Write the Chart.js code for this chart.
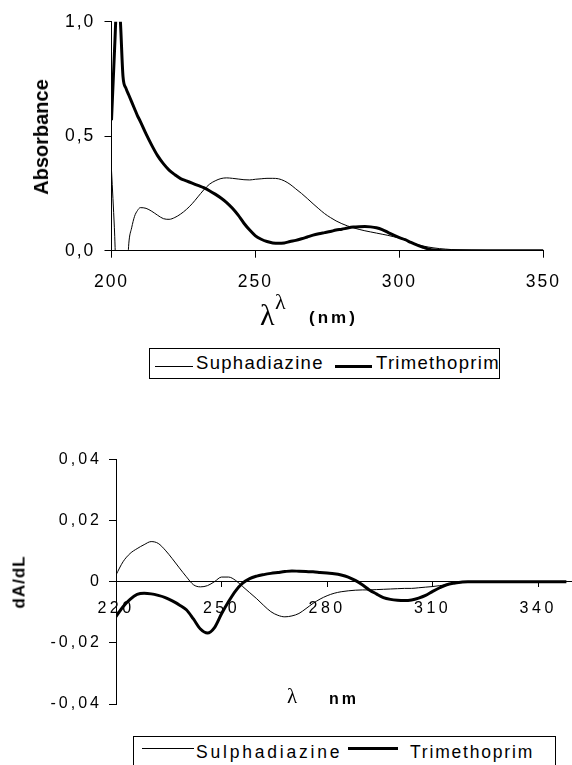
<!DOCTYPE html>
<html>
<head>
<meta charset="utf-8">
<script src="https://cdn.jsdelivr.net/npm/chart.js@4/dist/chart.umd.min.js"></script>
<style>
  html, body { margin: 0; padding: 0; background: #fff; overflow: hidden; }
  body { width: 572px; height: 765px; position: relative; font-family: 'Liberation Sans', Arial, sans-serif; color: #000; }
  .wrap { position: absolute; left: 0; width: 572px; }
  .txt { position: absolute; white-space: nowrap; line-height: 1; }
  .rot { transform: translate(-50%, -50%) rotate(-90deg); font-weight: bold; }
  .serif { font-family: 'Liberation Serif', 'DejaVu Serif', serif; }
  .box { position: absolute; border: 1px solid #000; box-sizing: border-box; }
  .ln { position: absolute; background: #000; }
</style>
</head>
<body>
<div class="wrap" style="top:0;height:300px"><canvas id="absChart"></canvas></div>
<div class="wrap" style="top:400px;height:330px"><canvas id="derChart"></canvas></div>

<!-- axis titles -->
<div class="txt rot" style="left:41px;top:137px;font-size:20px">Absorbance</div>
<span class="txt serif" style="left:260px;top:300px;font-size:30px">λ</span>
<span class="txt serif" style="left:275px;top:291px;font-size:22px">λ</span>
<span class="txt" style="left:309px;top:309px;font-size:17px;font-weight:bold;letter-spacing:3px">(nm)</span>

<div class="txt rot" style="left:19px;top:582px;font-size:17px;letter-spacing:1px">dA/dL</div>
<span class="txt serif" style="left:287px;top:686px;font-size:21px">λ</span>
<span class="txt" style="left:329px;top:691px;font-size:16px;font-weight:bold;letter-spacing:3px">nm</span>

<!-- legends -->
<div class="box" style="left:149px;top:348px;width:351px;height:31px"></div>
<div class="ln" style="left:155px;top:366px;width:38px;height:1px"></div>
<span class="txt" style="left:196px;top:354px;font-size:18.5px;letter-spacing:1.3px">Suphadiazine</span>
<div class="ln" style="left:335px;top:365px;width:37px;height:3px"></div>
<span class="txt" style="left:376px;top:354px;font-size:18.5px;letter-spacing:1.3px">Trimethoprim</span>

<div class="box" style="left:133px;top:736px;width:423px;height:31px"></div>
<div class="ln" style="left:142px;top:748px;width:52px;height:1px"></div>
<span class="txt" style="left:196px;top:744px;font-size:17.5px;letter-spacing:2.8px">Sulphadiazine</span>
<div class="ln" style="left:348px;top:747px;width:50px;height:3px"></div>
<span class="txt" style="left:410px;top:744px;font-size:17.5px;letter-spacing:1.8px">Trimethoprim</span>

<script>
// UV spectra (absorbance)
const absWavelengths = [200, 201, 202, 203, 204, 205, 206, 207, 208, 209, 210,
  212, 214, 216, 218, 220, 222, 224, 226, 228, 230, 232, 234, 236, 238, 240,
  242, 244, 246, 248, 250, 252, 254, 256, 258, 260, 262, 264, 266, 268, 270,
  272, 274, 276, 278, 280, 282, 284, 286, 288, 290, 292, 294, 296, 298, 300,
  302, 304, 306, 308, 310, 312, 314, 316, 318, 320, 325, 330, 335, 340, 345, 350];
const absSulphadiazine = [0.35, 0.10, -0.2, -0.2, -0.2, -0.2, 0.03, 0.10, 0.15, 0.175, 0.188,
  0.185, 0.172, 0.155, 0.14, 0.137, 0.145, 0.16, 0.18, 0.205, 0.235, 0.265, 0.29, 0.305, 0.315, 0.318,
  0.316, 0.313, 0.31, 0.309, 0.312, 0.314, 0.316, 0.316, 0.314, 0.305, 0.29, 0.27, 0.25, 0.228, 0.205,
  0.183, 0.162, 0.145, 0.13, 0.118, 0.108, 0.1, 0.093, 0.087, 0.082, 0.077, 0.072, 0.067, 0.061, 0.055,
  0.046, 0.037, 0.028, 0.021, 0.016, 0.012, 0.009, 0.007, 0.005, 0.004, 0.002, 0.001, 0, 0, 0, 0];
const absTrimethoprim = [0.57, 0.86, 1.1, 1.02, 0.76, 0.71, 0.68, 0.65, 0.62, 0.59, 0.565,
  0.51, 0.46, 0.415, 0.38, 0.352, 0.332, 0.315, 0.305, 0.295, 0.285, 0.275, 0.262, 0.247, 0.23, 0.21,
  0.185, 0.155, 0.12, 0.09, 0.065, 0.05, 0.04, 0.034, 0.032, 0.034, 0.04, 0.045, 0.052, 0.06, 0.068,
  0.074, 0.079, 0.084, 0.09, 0.094, 0.099, 0.103, 0.105, 0.106, 0.104, 0.1, 0.092, 0.08, 0.068, 0.057,
  0.048, 0.036, 0.025, 0.016, 0.008, 0.003, 0.001, 0, 0, 0, 0, 0, 0, 0, 0, 0];
const absXTicks = [200, 250, 300, 350];
const absYTicks = [0, 0.5, 1.0];
const absLabels = ['Suphadiazine', 'Trimethoprim'];

// first derivative spectra
const derWavelengths = [220, 222, 224, 226, 228, 230, 232, 234, 236, 238, 240,
  242, 244, 246, 248, 250, 252, 254, 256, 258, 260, 262, 264, 266, 268, 270,
  272, 274, 276, 278, 280, 282, 284, 286, 288, 290, 292, 294, 296, 298, 300,
  302, 304, 306, 308, 310, 312, 314, 316, 318, 320, 322, 324, 326, 328, 330,
  332, 334, 336, 338, 340, 342, 344, 346, 348];
const derSulphadiazine = [0.0022, 0.0065, 0.0092, 0.0108, 0.0121, 0.0131, 0.0125, 0.0103, 0.0075, 0.0045, 0.0016,
  -0.001, -0.0017, -0.0013, 0, 0.0015, 0.0015, 0.0004, -0.0016, -0.0036, -0.0056, -0.0078, -0.0098, -0.011, -0.0115, -0.0112,
  -0.0104, -0.0088, -0.0071, -0.0057, -0.0046, -0.0038, -0.0033, -0.003, -0.0028, -0.0027, -0.0027, -0.0026, -0.0025, -0.0024, -0.0023,
  -0.0022, -0.0022, -0.002, -0.0018, -0.0016, -0.0013, -0.001, -0.0005, -0.0002, 0, 0, 0, 0, 0, 0,
  0, 0, 0, 0, 0, 0, 0, 0, 0];
const derTrimethoprim = [-0.0114, -0.0082, -0.0058, -0.0042, -0.0038, -0.004, -0.0045, -0.0052, -0.0063, -0.0076, -0.0092,
  -0.0122, -0.0155, -0.0168, -0.015, -0.0105, -0.0065, -0.003, -0.0005, 0.001, 0.0018, 0.0023, 0.0027, 0.003, 0.0033, 0.0035,
  0.0034, 0.0033, 0.0032, 0.003, 0.0028, 0.0026, 0.0022, 0.0015, 0.0004, -0.001, -0.0027, -0.004, -0.0052, -0.0058, -0.0061,
  -0.0062, -0.006, -0.0054, -0.0045, -0.0032, -0.002, -0.001, -0.0005, -0.0002, 0, 0, 0, 0, 0, 0,
  0, 0, 0, 0, 0, 0, 0, 0, 0];
const derXTicks = [220, 250, 280, 310, 340];
const derYTicks = [-0.04, -0.02, 0, 0.02, 0.04];
const derLabels = ['Sulphadiazine', 'Trimethoprim'];

const FONT = "'Liberation Sans', Arial, sans-serif";
const points = (xs, ys) => xs.map((x, i) => ({ x: x, y: ys[i] }));
const comma = s => s.replace('.', ',');

// canvas text has no letter-spacing option: wrap each scale's drawLabels
const spacing = sizes => ({
  id: 'spacing',
  beforeDraw(c) {
    Object.keys(sizes).forEach(id => {
      const s = c.scales[id];
      if (!s || s._spaced) return;
      const draw = s.drawLabels;
      s.drawLabels = function (area) {
        c.ctx.letterSpacing = sizes[id] + 'px';
        draw.call(this, area);
        c.ctx.letterSpacing = '0px';
      };
      s._spaced = true;
    });
  }
});

const axisStyle = (tickLen, fontSize, pad, cb) => ({
  grid: { display: true, drawOnChartArea: false, drawTicks: true, tickLength: tickLen, color: '#000', tickColor: '#000' },
  border: { display: true, color: '#000', width: 1 },
  ticks: { color: '#000', font: { family: FONT, size: fontSize }, padding: pad, maxRotation: 0, autoSkip: false, callback: cb }
});

const line = (label, data, w) => ({
  label: label, data: data, borderColor: '#000', borderWidth: w,
  pointRadius: 0, cubicInterpolationMode: 'monotone', fill: false
});

new Chart(document.getElementById('absChart'), {
  type: 'line',
  data: {
    datasets: [
      line(absLabels[0], points(absWavelengths, absSulphadiazine), 1),
      line(absLabels[1], points(absWavelengths, absTrimethoprim), 3)
    ]
  },
  options: {
    responsive: true,
    maintainAspectRatio: false,
    animation: false,
    layout: { padding: { left: 0, right: 18, top: 21.7, bottom: 1.3 } },
    plugins: { legend: { display: false }, tooltip: { enabled: false } },
    scales: {
      x: Object.assign(axisStyle(7, 17.5, 14, v => String(v)), {
        type: 'linear', position: 'bottom', min: 200, max: 350,
        afterBuildTicks: s => { s.ticks = absXTicks.map(v => ({ value: v })); },
        afterFit: s => { s.height = 48; }
      }),
      y: Object.assign(axisStyle(7, 17.5, 9.2, v => comma(v.toFixed(1))), {
        type: 'linear', position: 'left', min: 0, max: 1,
        afterBuildTicks: s => { s.ticks = absYTicks.map(v => ({ value: v })); },
        afterFit: s => { s.width = 111.5; }
      })
    }
  },
  plugins: [spacing({ x: 2, y: 2 })]
});

new Chart(document.getElementById('derChart'), {
  type: 'line',
  data: {
    datasets: [
      line(derLabels[0], points(derWavelengths, derSulphadiazine), 1),
      line(derLabels[1], points(derWavelengths, derTrimethoprim), 3)
    ]
  },
  options: {
    responsive: true,
    maintainAspectRatio: false,
    animation: false,
    layout: { padding: { left: 0, right: 0, top: 59.3, bottom: 26 } },
    plugins: { legend: { display: false }, tooltip: { enabled: false } },
    scales: {
      x: Object.assign(axisStyle(5, 16, 12, v => String(v)), {
        type: 'linear', position: { y: 0 }, min: 220, max: 349.6,
        afterBuildTicks: s => { s.ticks = derXTicks.map(v => ({ value: v })); }
      }),
      y: Object.assign(axisStyle(7, 16, 7, v => v === 0 ? '0' : comma(v.toFixed(2))), {
        type: 'linear', position: 'left', min: -0.04, max: 0.04,
        afterBuildTicks: s => { s.ticks = derYTicks.map(v => ({ value: v })); },
        afterFit: s => { s.width = 116; }
      })
    }
  },
  plugins: [spacing({ x: 3.5, y: 3 })]
});
</script>
</body>
</html>
